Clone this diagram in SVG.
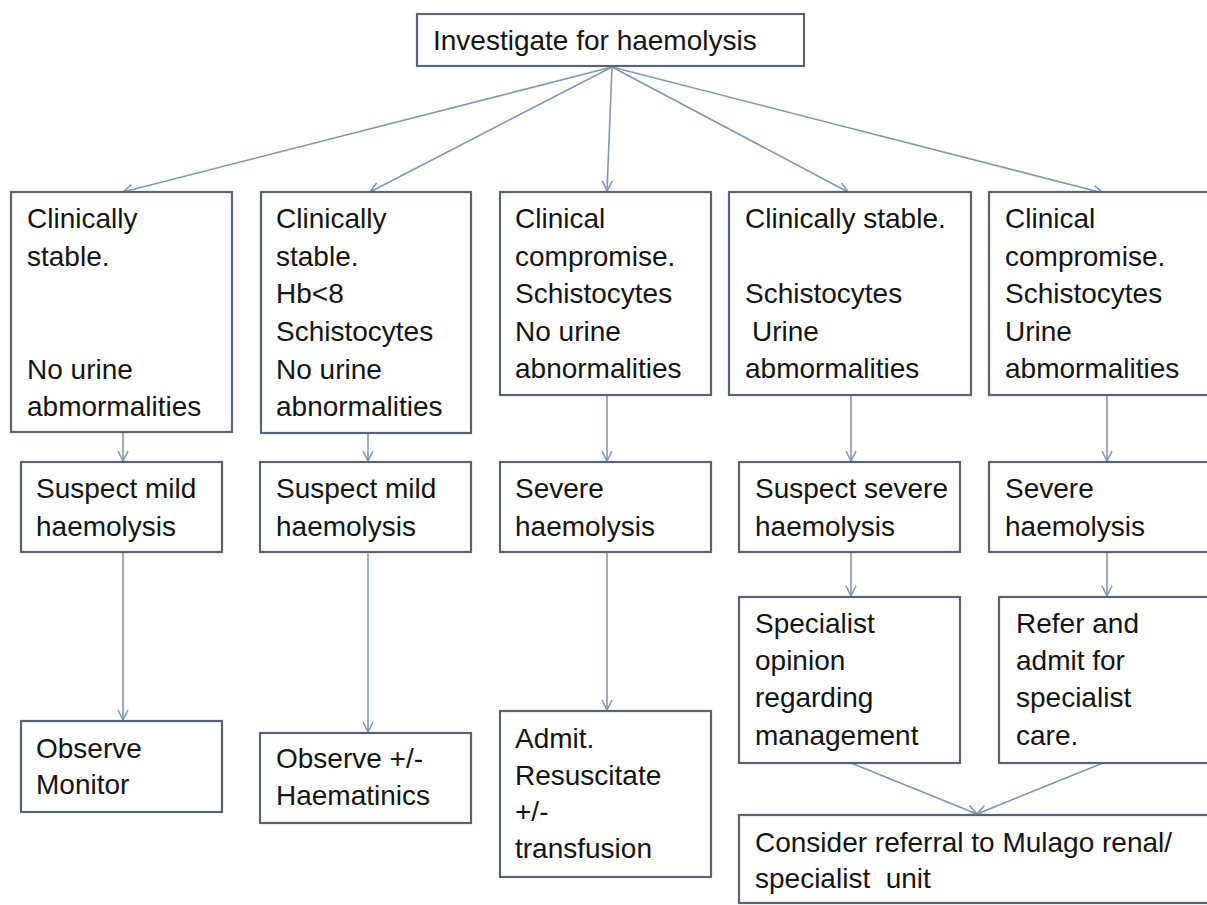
<svg xmlns="http://www.w3.org/2000/svg" width="1207" height="905" viewBox="0 0 1207 905">
<style>
.box{fill:#ffffff;stroke:#5a6470;stroke-width:2.2}
.t{font-family:"Liberation Sans",Arial,sans-serif;font-size:28px;fill:#141414}
.c{stroke:#7f98b6;stroke-width:1.6;fill:none;marker-end:url(#ah)}
</style>
<defs>
<marker id="ah" markerUnits="userSpaceOnUse" markerWidth="14" markerHeight="14" refX="11" refY="6" orient="auto">
<path d="M1,1 L11,6 L1,11" fill="none" stroke="#7f98b6" stroke-width="1.6"/>
</marker>
</defs>
<rect width="1207" height="905" fill="#ffffff"/>

<g id="connectors">
<line class="c" x1="612" y1="67" x2="123" y2="192"/>
<line class="c" x1="612" y1="67" x2="370" y2="192"/>
<line class="c" x1="612" y1="67" x2="607" y2="191"/>
<line class="c" x1="612" y1="67" x2="848" y2="192"/>
<line class="c" x1="612" y1="67" x2="1103" y2="193"/>
<line class="c" x1="123" y1="432" x2="123" y2="461"/>
<line class="c" x1="368" y1="433" x2="368" y2="461"/>
<line class="c" x1="607" y1="395" x2="607" y2="461"/>
<line class="c" x1="851" y1="395" x2="851" y2="461"/>
<line class="c" x1="1107" y1="395" x2="1107" y2="461"/>
<line class="c" x1="123" y1="552" x2="123" y2="720"/>
<line class="c" x1="368" y1="552" x2="368" y2="732"/>
<line class="c" x1="607" y1="552" x2="607" y2="710"/>
<line class="c" x1="851" y1="552" x2="851" y2="596"/>
<line class="c" x1="1107" y1="552" x2="1107" y2="596"/>
<line class="c" x1="851" y1="763" x2="977" y2="814"/>
<line class="c" x1="1103" y1="763" x2="977" y2="814"/>
</g>

<g id="n-top">
<rect class="box" x="417" y="14" width="387" height="52"/>
<text class="t" x="433" y="50">Investigate for haemolysis</text>
</g>

<g id="n-a1">
<rect class="box" x="11" y="192" width="221" height="240"/>
<text class="t"><tspan x="27" y="228">Clinically</tspan><tspan x="27" y="266">stable.</tspan><tspan x="27" y="379">No urine</tspan><tspan x="27" y="416">abmormalities</tspan></text>
</g>
<g id="n-a2">
<rect class="box" x="261" y="192" width="210" height="241"/>
<text class="t"><tspan x="276" y="228">Clinically</tspan><tspan x="276" y="266">stable.</tspan><tspan x="276" y="303">Hb&lt;8</tspan><tspan x="276" y="341">Schistocytes</tspan><tspan x="276" y="379">No urine</tspan><tspan x="276" y="416">abnormalities</tspan></text>
</g>
<g id="n-a3">
<rect class="box" x="500" y="192" width="211" height="203"/>
<text class="t"><tspan x="515" y="228">Clinical</tspan><tspan x="515" y="266">compromise.</tspan><tspan x="515" y="303">Schistocytes</tspan><tspan x="515" y="341">No urine</tspan><tspan x="515" y="378">abnormalities</tspan></text>
</g>
<g id="n-a4">
<rect class="box" x="729" y="192" width="242" height="203"/>
<text class="t"><tspan x="745" y="228">Clinically stable.</tspan><tspan x="745" y="303">Schistocytes</tspan><tspan x="752" y="341">Urine</tspan><tspan x="745" y="378">abmormalities</tspan></text>
</g>
<g id="n-a5">
<rect class="box" x="989" y="192" width="230" height="203"/>
<text class="t"><tspan x="1005" y="228">Clinical</tspan><tspan x="1005" y="266">compromise.</tspan><tspan x="1005" y="303">Schistocytes</tspan><tspan x="1005" y="341">Urine</tspan><tspan x="1005" y="378">abmormalities</tspan></text>
</g>

<g id="n-b1">
<rect class="box" x="21" y="462" width="201" height="90"/>
<text class="t"><tspan x="36" y="498">Suspect mild</tspan><tspan x="36" y="536">haemolysis</tspan></text>
</g>
<g id="n-b2">
<rect class="box" x="260" y="462" width="211" height="90"/>
<text class="t"><tspan x="276" y="498">Suspect mild</tspan><tspan x="276" y="536">haemolysis</tspan></text>
</g>
<g id="n-b3">
<rect class="box" x="500" y="462" width="211" height="90"/>
<text class="t"><tspan x="515" y="498">Severe</tspan><tspan x="515" y="536">haemolysis</tspan></text>
</g>
<g id="n-b4">
<rect class="box" x="739" y="462" width="221" height="90"/>
<text class="t"><tspan x="755" y="498">Suspect severe</tspan><tspan x="755" y="536">haemolysis</tspan></text>
</g>
<g id="n-b5">
<rect class="box" x="989" y="462" width="230" height="90"/>
<text class="t"><tspan x="1005" y="498">Severe</tspan><tspan x="1005" y="536">haemolysis</tspan></text>
</g>

<g id="n-c1">
<rect class="box" x="21" y="721" width="201" height="91"/>
<text class="t"><tspan x="36" y="758">Observe</tspan><tspan x="36" y="794">Monitor</tspan></text>
</g>
<g id="n-c2">
<rect class="box" x="260" y="733" width="211" height="90"/>
<text class="t"><tspan x="276" y="768">Observe +/-</tspan><tspan x="276" y="805">Haematinics</tspan></text>
</g>
<g id="n-c3">
<rect class="box" x="500" y="711" width="211" height="166"/>
<text class="t"><tspan x="515" y="748">Admit.</tspan><tspan x="515" y="785">Resuscitate</tspan><tspan x="515" y="821">+/-</tspan><tspan x="515" y="858">transfusion</tspan></text>
</g>
<g id="n-c4">
<rect class="box" x="739" y="597" width="221" height="166"/>
<text class="t"><tspan x="755" y="633">Specialist</tspan><tspan x="755" y="670">opinion</tspan><tspan x="755" y="707">regarding</tspan><tspan x="755" y="745">management</tspan></text>
</g>
<g id="n-c5">
<rect class="box" x="999" y="597" width="220" height="166"/>
<text class="t"><tspan x="1016" y="633">Refer and</tspan><tspan x="1016" y="670">admit for</tspan><tspan x="1016" y="707">specialist</tspan><tspan x="1016" y="745">care.</tspan></text>
</g>

<g id="n-d">
<rect class="box" x="739" y="815" width="480" height="88"/>
<text class="t"><tspan x="755" y="852">Consider referral to Mulago renal/</tspan><tspan x="755" y="888">specialist&#160; unit</tspan></text>
</g>
</svg>
